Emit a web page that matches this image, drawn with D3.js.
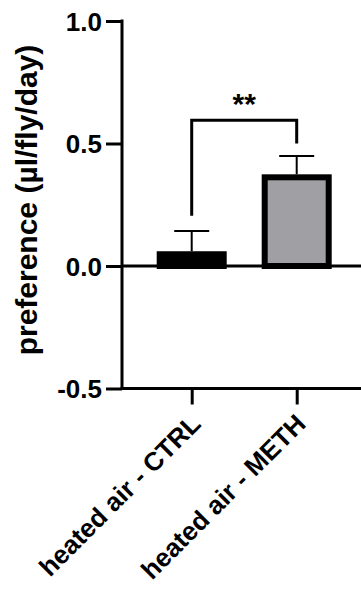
<!DOCTYPE html>
<html><head><meta charset="utf-8">
<script src="https://cdn.jsdelivr.net/npm/d3@7"></script>
<style>html,body{margin:0;padding:0;background:#fff;}svg{display:block;}</style>
</head><body>
<script>
const categories = ["heated air - CTRL", "heated air - METH"];
const means = [0.048, 0.362];
const sems = [0.095, 0.087];
const barColors = ["#000000", "#a09fa4"];
const yTicks = [-0.5, 0.0, 0.5, 1.0];
const yTickLabels = ["-0.5", "0.0", "0.5", "1.0"];
const sigLabel = "**";
const sigLegs = [0.205, 0.5]; // bottom of bracket legs (data units)
const sigTop = 0.595;
const yLabel = "preference (µl/fly/day)";

const W = 361, H = 592;
const svg = d3.select("body").append("svg").attr("width", W).attr("height", H);
const font = "'Liberation Sans', Arial, sans-serif";

const y = d3.scaleLinear().domain([-0.5, 1.0]).range([388.5, 21]);
const x = d3.scalePoint().domain(categories).range([191.7, 296.7]);
const barW = 64, barStroke = 6;
const axisX = 122;

// bars
svg.append("g").selectAll("rect").data(categories).join("rect")
  .attr("x", d => x(d) - barW / 2)
  .attr("y", (d, i) => y(means[i]))
  .attr("width", barW)
  .attr("height", (d, i) => y(0) - y(means[i]))
  .attr("fill", (d, i) => barColors[i])
  .attr("stroke", "#000").attr("stroke-width", barStroke);

// error bars (upper only)
const eg = svg.append("g").attr("stroke", "#000").attr("stroke-width", 2);
categories.forEach((c, i) => {
  const top = y(means[i] + sems[i]);
  eg.append("line").attr("x1", x(c)).attr("x2", x(c))
    .attr("y1", y(means[i]) - barStroke / 2).attr("y2", top);
  eg.append("line").attr("x1", x(c) - 17.5).attr("x2", x(c) + 17.5)
    .attr("y1", top).attr("y2", top);
});

// zero line
svg.append("line").attr("x1", axisX).attr("x2", W).attr("y1", y(0)).attr("y2", y(0))
  .attr("stroke", "#000").attr("stroke-width", 3);

// y axis
const yAxis = d3.axisLeft(y).tickValues(yTicks)
  .tickFormat((d, i) => yTickLabels[yTicks.indexOf(d)])
  .tickSizeInner(16).tickSizeOuter(0).tickPadding(4);
const gy = svg.append("g").attr("transform", `translate(${axisX},0)`).call(yAxis);
gy.select(".domain").attr("stroke-width", 3).attr("stroke", "#000")
  .attr("d", `M0,${y(1.0) - 1.5}V${y(-0.5) + 1.5}`);
gy.selectAll(".tick line").attr("stroke-width", 3).attr("stroke", "#000");
gy.selectAll(".tick text").attr("font-family", font).attr("font-weight", "bold")
  .attr("font-size", 26).attr("fill", "#000").attr("dy", "0.36em");

// x axis (bottom)
const xAxis = d3.axisBottom(x).tickSizeInner(16).tickSizeOuter(0).tickPadding(0);
const gx = svg.append("g").attr("transform", `translate(0,${y(-0.5)})`).call(xAxis);
gx.select(".domain").attr("stroke-width", 3).attr("stroke", "#000")
  .attr("d", `M${axisX - 1.5},0H${W}`);
gx.selectAll(".tick line").attr("stroke-width", 3).attr("stroke", "#000");
gx.selectAll(".tick text")
  .attr("font-family", font).attr("font-weight", "bold").attr("font-size", 26)
  .attr("fill", "#000").attr("text-anchor", "end")
  .attr("transform", "translate(10,37) rotate(-45)")
  .attr("y", 0).attr("dy", 0);

// significance bracket
const xs = categories.map(c => x(c));
svg.append("path")
  .attr("d", `M${xs[0]},${y(sigLegs[0])}V${y(sigTop)}H${xs[1]}V${y(sigLegs[1])}`)
  .attr("fill", "none").attr("stroke", "#000").attr("stroke-width", 3);
svg.append("text").attr("x", (xs[0] + xs[1]) / 2).attr("y", y(sigTop) - 6)
  .attr("text-anchor", "middle").attr("font-family", font).attr("font-weight", "bold")
  .attr("font-size", 30).text(sigLabel);

// y label
svg.append("text").attr("transform", `translate(37,${200}) rotate(-90)`)
  .attr("text-anchor", "middle").attr("font-family", font).attr("font-weight", "bold")
  .attr("font-size", 30).text(yLabel);
</script>
</body></html>
